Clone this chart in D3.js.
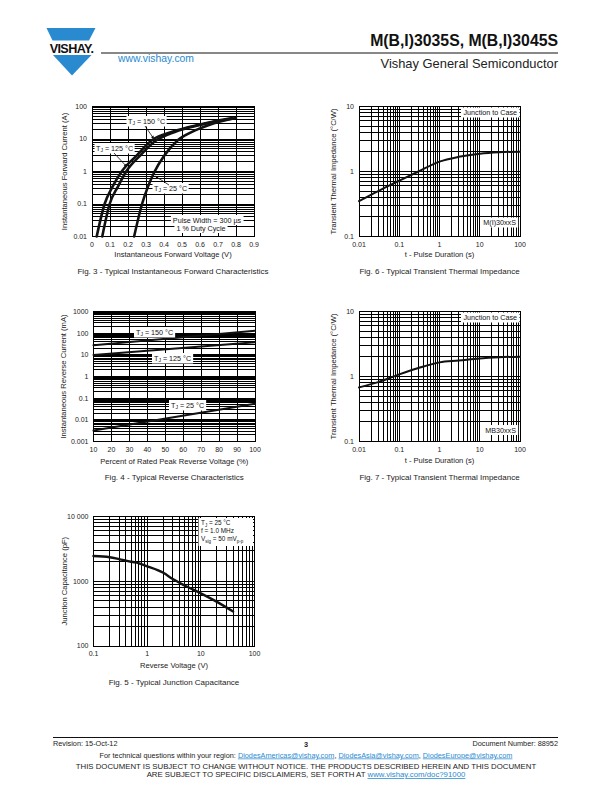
<!DOCTYPE html>
<html><head><meta charset="utf-8">
<script src="https://cdn.jsdelivr.net/npm/d3@7"></script>
<style>body{margin:0;background:#fff}svg{display:block}text{font-family:"Liberation Sans",Arial,Helvetica,sans-serif}</style>
</head><body><svg id="page" width="612" height="792"></svg>
<script>
// ---------- DATA ----------
// Fig. 3 forward characteristics (V, A)
const fwdXTicks = [0,0.1,0.2,0.3,0.4,0.5,0.6,0.7,0.8,0.9];
const fwdXLabels = ["0","0.1","0.2","0.3","0.4","0.5","0.6","0.7","0.8","0.9"];
const fwdYTicks = [0.01,0.1,1,10,100];
const fwdYLabels = ["0.01","0.1","1","10","100"];
const fwd150 = [[0.026,0.01],[0.07,0.1],[0.115,0.35],[0.165,1],[0.25,3.2],[0.33,9],[0.45,17],[0.6,28],[0.7,37],[0.78,44]];
const fwd125 = [[0.057,0.01],[0.098,0.1],[0.145,0.35],[0.19,1],[0.27,3.2],[0.35,8.5],[0.46,16.5],[0.6,27],[0.7,36],[0.78,43]];
const fwd25  = [[0.234,0.01],[0.278,0.1],[0.31,0.33],[0.348,1],[0.4,3],[0.475,9],[0.55,16],[0.65,27],[0.8,44]];

// Fig. 4 reverse characteristics (% , mA)
const revXTicks = [10,20,30,40,50,60,70,80,90,100];
const revXLabels = ["10","20","30","40","50","60","70","80","90","100"];
const revYTicks = [0.001,0.01,0.1,1,10,100,1000];
const revYLabels = ["0.001","0.01","0.1","1","10","100","1000"];
const rev150 = [[10,28],[100,130]];
const rev125 = [[10,9.8],[100,38]];
const rev25  = [[10,0.0032],[100,0.055]];

// Fig. 5 junction capacitance (V, pF)
const capXTicks = [0.1,1,10,100];
const capXLabels = ["0.1","1","10","100"];
const capYTicks = [100,1000,10000];
const capYLabels = ["100","1000","10 000"];
const cap25 = [[0.1,2450],[0.2,2350],[0.3,2200],[0.5,2000],[0.6,1960],[1,1700],[2,1350],[3,1080],[5,860],[10,650],[20,480],[40,340]];

// Fig. 6 / Fig. 7 transient thermal impedance (s, °C/W)
const zthXTicks = [0.01,0.1,1,10,100];
const zthXLabels = ["0.01","0.1","1","10","100"];
const zthYTicks = [0.1,1,10];
const zthYLabels = ["0.1","1","10"];
const zthM = [[0.01,0.35],[0.03,0.5],[0.1,0.72],[0.3,1.0],[1,1.42],[3,1.68],[10,1.88],[30,1.98],[100,2.02]];
const zthMB = [[0.01,0.68],[0.03,0.82],[0.1,1.08],[0.3,1.35],[1,1.65],[3,1.76],[10,1.9],[30,1.98],[100,2.02]];

// ---------- DRAWING ----------
const svg = d3.select("#page");
const BLUE = "#2a8ad0";
const TICK = 7, TITLE = 7.6, CAP = 8, LAB = 7.2;

function logGrid(min, max){
  const out=[]; const e0=Math.round(Math.log10(min)), e1=Math.round(Math.log10(max));
  for(let e=e0;e<e1;e++){ for(let k=1;k<10;k++) out.push(k*Math.pow(10,e)); }
  out.push(Math.pow(10,e1)); return out;
}

function richText(g, x, y, parts, size, anchor){
  const t = g.append("text").attr("x",x).attr("y",y).attr("font-size",size).attr("text-anchor",anchor||"start").attr("fill","#111");
  let state="n";
  parts.forEach(p=>{
    const s = t.append("tspan").text(p[0]);
    if(p[1]==="sub" && state!=="sub"){ s.attr("dy",1.5).attr("font-size",size*0.7); state="sub"; }
    else if(p[1]!=="sub" && state==="sub"){ s.attr("dy",-1.5); state="n"; }
    else if(p[1]==="sub"){ s.attr("font-size",size*0.7); }
  });
  return t;
}

function boxed(g, x, y, parts, size, anchor, pad){
  const t = richText(g, x, y, parts, size, anchor);
  const b = t.node().getBBox(); pad = pad||1.5;
  g.insert("rect", function(){return t.node();})
    .attr("x",b.x-pad).attr("y",b.y-0.5).attr("width",b.width+2*pad).attr("height",b.height+1).attr("fill","#fff");
  return t;
}

function arrow(g, x1,y1,x2,y2){
  g.append("line").attr("x1",x1).attr("y1",y1).attr("x2",x2).attr("y2",y2).attr("stroke","#111").attr("stroke-width",0.8);
  const a = Math.atan2(y2-y1,x2-x1), L=3.5, w=0.45;
  g.append("path").attr("d",`M${x2},${y2}L${x2-L*Math.cos(a-w)},${y2-L*Math.sin(a-w)}L${x2-L*Math.cos(a+w)},${y2-L*Math.sin(a+w)}Z`).attr("fill","#111");
}

function panel(o){
  const g = svg.append("g");
  const x = (o.xLog? d3.scaleLog(): d3.scaleLinear()).domain(o.xDomain).range([o.x0,o.x1]);
  const y = d3.scaleLog().domain(o.yDomain).range([o.y1,o.y0]);
  const xg = o.xLog ? logGrid(o.xDomain[0],o.xDomain[1]) : o.xTicks;
  const yg = logGrid(o.yDomain[0],o.yDomain[1]);
  const grid = g.append("g").attr("stroke","#000").attr("stroke-width",1).attr("shape-rendering","crispEdges");
  xg.forEach(v=>grid.append("line").attr("x1",x(v)).attr("x2",x(v)).attr("y1",o.y0).attr("y2",o.y1));
  yg.forEach(v=>grid.append("line").attr("y1",y(v)).attr("y2",y(v)).attr("x1",o.x0).attr("x2",o.x1));
  grid.append("rect").attr("x",o.x0).attr("y",o.y0).attr("width",o.x1-o.x0).attr("height",o.y1-o.y0).attr("fill","none");
  o.xTicks.forEach((v,i)=>g.append("text").attr("x",x(v)).attr("y",o.xLabelY).attr("text-anchor","middle").attr("font-size",TICK).attr("fill","#222").text(o.xLabels[i]));
  o.yTicks.forEach((v,i)=>g.append("text").attr("x",o.x0-5).attr("y",y(v)+2.4).attr("text-anchor","end").attr("font-size",TICK).attr("fill","#222").text(o.yLabels[i]));
  g.append("text").attr("x",(o.x0+o.x1)/2).attr("y",o.xTitleY).attr("text-anchor","middle").attr("font-size",TITLE).attr("fill","#222").text(o.xTitle);
  g.append("text").attr("transform",`translate(${o.yTitleX},${(o.y0+o.y1)/2}) rotate(-90)`).attr("text-anchor","middle").attr("font-size",TITLE).attr("fill","#222").text(o.yTitle);
  g.append("text").attr("x",(o.x0+o.x1)/2).attr("y",o.capY).attr("text-anchor","middle").attr("font-size",CAP).attr("fill","#222").text(o.caption);
  const line = d3.line().x(d=>x(d[0])).y(d=>y(d[1])).curve(d3.curveMonotoneX);
  const cg = g.append("g");
  o.series.forEach(s=>cg.append("path").datum(s.data).attr("d",line).attr("fill","none").attr("stroke","#111").attr("stroke-width",s.w).attr("stroke-linecap","round"));
  return {g,x,y};
}

// Fig. 3
const p3 = panel({x0:92,x1:254,y0:106.5,y1:236.5,xDomain:[0,0.9],yDomain:[0.01,100],
  xTicks:fwdXTicks,xLabels:fwdXLabels,yTicks:fwdYTicks,yLabels:fwdYLabels,xLabelY:246.5,xTitleY:257,yTitleX:67,capY:273.5,
  xTitle:"Instantaneous Forward Voltage (V)",yTitle:"Instantaneous Forward Current (A)",
  caption:"Fig. 3 - Typical Instantaneous Forward Characteristics",
  series:[{data:fwd150,w:2.6},{data:fwd125,w:2.6},{data:fwd25,w:2.6}]});
boxed(p3.g,128,123.5,[["T"],["J","sub"],[" = 150 °C"]],LAB);
arrow(p3.g,145,126,154,139);
boxed(p3.g,96,150.5,[["T"],["J","sub"],[" = 125 °C"]],LAB);
arrow(p3.g,114,153,127,167);
boxed(p3.g,154,190.5,[["T"],["J","sub"],[" = 25 °C"]],LAB);
arrow(p3.g,169,185,155,176);
boxed(p3.g,207,222.5,[["Pulse Width = 300 µs"]],LAB,"middle",2);
boxed(p3.g,201,230.5,[["1 % Duty Cycle"]],LAB,"middle",2);

// Fig. 6
const p6 = panel({x0:359,x1:520,y0:106.5,y1:236.5,xLog:true,xDomain:[0.01,100],yDomain:[0.1,10],
  xTicks:zthXTicks,xLabels:zthXLabels,yTicks:zthYTicks,yLabels:zthYLabels,xLabelY:246.5,xTitleY:257,yTitleX:336,capY:273.5,
  xTitle:"t - Pulse Duration (s)",yTitle:"Transient Thermal Impedance (°C/W)",
  caption:"Fig. 6 - Typical Transient Thermal Impedance",
  series:[{data:zthM,w:2}]});
boxed(p6.g,517,115,[["Junction to Case"]],LAB,"end",2.5);
boxed(p6.g,516,225,[["M(I)30xxS"]],LAB,"end",2);

// Fig. 4
const p4 = panel({x0:93.5,x1:255,y0:311.5,y1:441.5,xDomain:[10,100],yDomain:[0.001,1000],
  xTicks:revXTicks,xLabels:revXLabels,yTicks:revYTicks,yLabels:revYLabels,xLabelY:451.5,xTitleY:463.5,yTitleX:66,capY:479.5,
  xTitle:"Percent of Rated Peak Reverse Voltage (%)",yTitle:"Instantaneous Reverse Current (mA)",
  caption:"Fig. 4 - Typical Reverse Characteristics",
  series:[{data:rev150,w:2},{data:rev125,w:2},{data:rev25,w:2}]});
boxed(p4.g,136,334.5,[["T"],["J","sub"],[" = 150 °C"]],LAB,"start",2);
boxed(p4.g,154,360.5,[["T"],["J","sub"],[" = 125 °C"]],LAB,"start",2);
boxed(p4.g,171,407.5,[["T"],["J","sub"],[" = 25 °C"]],LAB,"start",2);

// Fig. 7
const p7 = panel({x0:359,x1:520,y0:311.5,y1:441.5,xLog:true,xDomain:[0.01,100],yDomain:[0.1,10],
  xTicks:zthXTicks,xLabels:zthXLabels,yTicks:zthYTicks,yLabels:zthYLabels,xLabelY:451.5,xTitleY:463,yTitleX:336,capY:479.5,
  xTitle:"t - Pulse Duration (s)",yTitle:"Transient Thermal Impedance (°C/W)",
  caption:"Fig. 7 - Typical Transient Thermal Impedance",
  series:[{data:zthMB,w:2}]});
boxed(p7.g,517,320,[["Junction to Case"]],LAB,"end",2.5);
boxed(p7.g,516,432.5,[["MB30xxS"]],LAB,"end",2);

// Fig. 5
const p5 = panel({x0:93.5,x1:254.5,y0:516.5,y1:646,xLog:true,xDomain:[0.1,100],yDomain:[100,10000],
  xTicks:capXTicks,xLabels:capXLabels,yTicks:capYTicks,yLabels:capYLabels,xLabelY:656,xTitleY:667.5,yTitleX:67,capY:685,
  xTitle:"Reverse Voltage (V)",yTitle:"Junction Capacitance (pF)",
  caption:"Fig. 5 - Typical Junction Capacitance",
  series:[{data:cap25,w:2.4}]});
{
  p5.g.append("rect").attr("x",198.5).attr("y",518).attr("width",54.5).attr("height",28).attr("fill","#fff");
  richText(p5.g,201,525.3,[["T"],["J","sub"],[" = 25 °C"]],6.4);
  richText(p5.g,201,533.3,[["f = 1.0 MHz"]],6.4);
  richText(p5.g,201,541.3,[["V"],["sig","sub"],[" = 50 mV"],["p-p","sub"]],6.4);
}

// ---------- HEADER ----------
const hd = svg.append("g");
hd.append("path").attr("d","M46.5,28L95.5,28L89,40.5L52.5,40.5Z").attr("fill",BLUE);
hd.append("text").attr("x",71.5).attr("y",52.5).attr("text-anchor","middle").attr("font-size",12.6).attr("font-weight","bold").attr("fill","#111").attr("letter-spacing",-0.6).text("VISHAY.");
hd.append("path").attr("d","M53,55L91.5,55L72,75.5Z").attr("fill",BLUE);
hd.append("line").attr("x1",101).attr("x2",558).attr("y1",53).attr("y2",53).attr("stroke","#111").attr("stroke-width",1);
hd.append("text").attr("x",558).attr("y",46).attr("text-anchor","end").attr("font-size",15.8).attr("font-weight","bold").attr("fill","#111").text("M(B,I)3035S, M(B,I)3045S");
hd.append("text").attr("x",558).attr("y",68).attr("text-anchor","end").attr("font-size",12.9).attr("fill","#222").text("Vishay General Semiconductor");
hd.append("text").attr("x",118).attr("y",62).attr("font-size",10.4).attr("fill",BLUE).text("www.vishay.com");

// ---------- FOOTER ----------
const ft = svg.append("g").attr("font-size",7.3).attr("fill","#222");
ft.append("line").attr("x1",53).attr("x2",558).attr("y1",737.5).attr("y2",737.5).attr("stroke","#111").attr("stroke-width",1);
ft.append("text").attr("x",53).attr("y",746).text("Revision: 15-Oct-12");
ft.append("text").attr("x",306).attr("y",747).attr("text-anchor","middle").attr("font-weight","bold").text("3");
ft.append("text").attr("x",558).attr("y",746).attr("text-anchor","end").text("Document Number: 88952");
const q = ft.append("text").attr("x",306).attr("y",757.5).attr("text-anchor","middle");
q.append("tspan").text("For technical questions within your region: ");
q.append("tspan").attr("fill",BLUE).attr("text-decoration","underline").text("DiodesAmericas@vishay.com");
q.append("tspan").text(", ");
q.append("tspan").attr("fill",BLUE).attr("text-decoration","underline").text("DiodesAsia@vishay.com");
q.append("tspan").text(", ");
q.append("tspan").attr("fill",BLUE).attr("text-decoration","underline").text("DiodesEurope@vishay.com");
ft.append("text").attr("x",306).attr("y",768.5).attr("text-anchor","middle").attr("font-size",7.8).text("THIS DOCUMENT IS SUBJECT TO CHANGE WITHOUT NOTICE. THE PRODUCTS DESCRIBED HEREIN AND THIS DOCUMENT");
const d2 = ft.append("text").attr("x",306).attr("y",777).attr("text-anchor","middle").attr("font-size",7.8);
d2.append("tspan").text("ARE SUBJECT TO SPECIFIC DISCLAIMERS, SET FORTH AT ");
d2.append("tspan").attr("fill",BLUE).attr("text-decoration","underline").text("www.vishay.com/doc?91000");
</script></body></html>
